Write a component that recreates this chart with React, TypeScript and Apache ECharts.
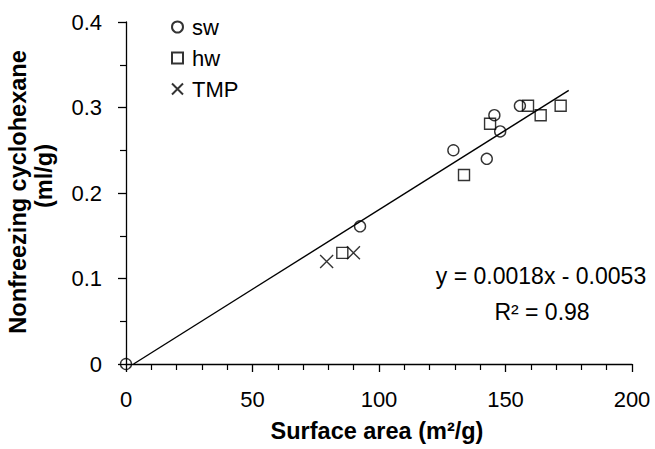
import React, { useEffect, useRef } from "react";
import * as echarts from "echarts";

const xTicks = [0, 50, 100, 150, 200];
const yTicks = [0, 0.1, 0.2, 0.3, 0.4];

const swX = [0, 92.5, 129.4, 142.6, 145.6, 147.9, 155.7];
const swY = [0, 0.161, 0.25, 0.24, 0.291, 0.272, 0.302];

const hwX = [85.5, 133.6, 143.9, 158.9, 163.9, 171.8];
const hwY = [0.13, 0.221, 0.281, 0.302, 0.291, 0.302];

const tmpX = [79.3, 89.9];
const tmpY = [0.12, 0.13];

const trendX = [3, 175];
const trendY = [0, 0.32];

const seriesNames = ["sw", "hw", "TMP"];
const equationText = "y = 0.0018x - 0.0053";
const r2Text = "R\u00B2 = 0.98";
const xTitle = "Surface area (m\u00B2/g)";
const yTitle1 = "Nonfreezing cyclohexane";
const yTitle2 = "(ml/g)";

const FONT = "'Liberation Sans', Arial, sans-serif";

const zip = (xs: number[], ys: number[]) => xs.map((x, i) => [x, ys[i]]);

export default function App() {
  const ref = useRef<HTMLDivElement>(null);
  useEffect(() => {
    if (!ref.current) return;
    const chart = echarts.init(ref.current, null, { renderer: "svg" });
    const markerStyle = {
      color: "rgba(255,255,255,0)",
      borderColor: "#000",
      borderWidth: 1.4,
    };
    chart.setOption({
      animation: false,
      backgroundColor: "#fff",
      textStyle: { fontFamily: FONT },
      grid: { left: 126, right: 23, top: 22, bottom: 85, containLabel: false },
      legend: {
        orient: "vertical",
        left: 166,
        top: 11,
        itemWidth: 11,
        itemHeight: 11,
        itemGap: 9,
        data: seriesNames,
        textStyle: {
          fontSize: 22,
          color: "#000",
          fontFamily: FONT,
          padding: [0, 0, 0, 4],
        },
      },
      xAxis: {
        type: "value",
        min: xTicks[0],
        max: xTicks[xTicks.length - 1],
        interval: xTicks[1] - xTicks[0],
        axisLine: { show: true, lineStyle: { color: "#000", width: 1.3 } },
        axisTick: { show: true, inside: false, length: 8, lineStyle: { color: "#000", width: 1.3 } },
        minorTick: { show: true, splitNumber: 5, length: 6, lineStyle: { color: "#000", width: 1.2 } },
        splitLine: { show: false },
        axisLabel: { fontSize: 22, color: "#000", margin: 24, fontFamily: FONT },
      },
      yAxis: {
        type: "value",
        min: yTicks[0],
        max: yTicks[yTicks.length - 1],
        interval: yTicks[1] - yTicks[0],
        axisLine: { show: true, lineStyle: { color: "#000", width: 1.3 } },
        axisTick: { show: true, inside: false, length: 8, lineStyle: { color: "#000", width: 1.3 } },
        minorTick: { show: true, splitNumber: 2, length: 6, lineStyle: { color: "#000", width: 1.2 } },
        splitLine: { show: false },
        axisLabel: {
          fontSize: 22,
          color: "#000",
          margin: 24,
          fontFamily: FONT,
          formatter: (v: number) => (v === 0 ? "0" : String(Math.round(v * 10) / 10)),
        },
      },
      series: [
        {
          name: "trend",
          type: "line",
          data: zip(trendX, trendY),
          showSymbol: false,
          symbol: "none",
          silent: true,
          lineStyle: { color: "#000", width: 1.4 },
          z: 1,
        },
        {
          name: seriesNames[0],
          type: "scatter",
          symbol: "circle",
          symbolSize: 11,
          clip: false,
          data: zip(swX, swY),
          itemStyle: markerStyle,
          z: 3,
        },
        {
          name: seriesNames[1],
          type: "scatter",
          symbol: "rect",
          symbolSize: 11,
          clip: false,
          data: zip(hwX, hwY),
          itemStyle: markerStyle,
          z: 3,
        },
        {
          name: seriesNames[2],
          type: "scatter",
          symbol: "path://M0,0L10,10M10,0L0,10",
          symbolSize: 13,
          clip: false,
          data: zip(tmpX, tmpY),
          itemStyle: markerStyle,
          z: 3,
        },
      ],
      graphic: [
        {
          type: "text",
          x: 541,
          y: 276,
          style: {
            text: equationText,
            fontSize: 23,
            fontFamily: FONT,
            fill: "#000",
            align: "center",
            verticalAlign: "middle",
          },
        },
        {
          type: "text",
          x: 542,
          y: 312,
          style: {
            text: r2Text,
            fontSize: 23,
            fontFamily: FONT,
            fill: "#000",
            align: "center",
            verticalAlign: "middle",
          },
        },
        {
          type: "text",
          x: 377,
          y: 431,
          style: {
            text: xTitle,
            fontSize: 23.5,
            fontWeight: "bold",
            fontFamily: FONT,
            fill: "#000",
            align: "center",
            verticalAlign: "middle",
          },
        },
        {
          type: "text",
          x: 18,
          y: 192,
          rotation: Math.PI / 2,
          style: {
            text: yTitle1,
            fontSize: 23.5,
            fontWeight: "bold",
            fontFamily: FONT,
            fill: "#000",
            align: "center",
            verticalAlign: "middle",
          },
        },
        {
          type: "text",
          x: 44,
          y: 176,
          rotation: Math.PI / 2,
          style: {
            text: yTitle2,
            fontSize: 23.5,
            fontWeight: "bold",
            fontFamily: FONT,
            fill: "#000",
            align: "center",
            verticalAlign: "middle",
          },
        },
      ],
    });
    return () => chart.dispose();
  }, []);
  return <div ref={ref} style={{ width: 655, height: 449, position: "absolute", left: 0, top: 0 }} />;
}
